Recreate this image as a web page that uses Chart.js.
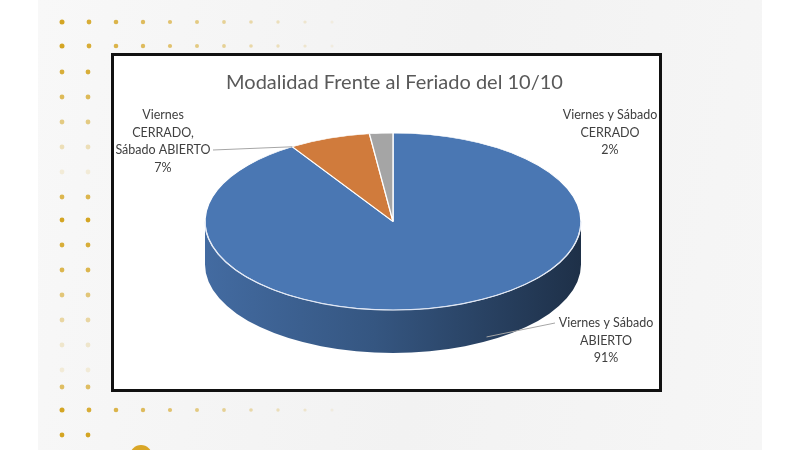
<!DOCTYPE html>
<html>
<head>
<meta charset="utf-8">
<script src="https://cdn.jsdelivr.net/npm/chart.js@4.4.0/dist/chart.umd.min.js"></script>
<style>
  html, body { margin: 0; padding: 0; width: 800px; height: 450px; overflow: hidden; background: #fff; }
  #slide { position: absolute; left: 38px; top: 0; width: 724px; height: 450px;
           background: linear-gradient(100deg, #f8f8f8 0%, #f2f2f2 55%, #f6f6f6 100%); }
  #dots { position: absolute; left: 0; top: 0; }
  #box { position: absolute; left: 111px; top: 53px; width: 545px; height: 333px;
         border: 3px solid #111; background: #fff; }
  #box canvas { position: absolute; left: 0; top: 0; }
</style>
</head>
<body>
<div id="slide"></div>
<canvas id="dots" width="800" height="450"></canvas>
<div id="box"><canvas id="pie" width="545" height="333"></canvas></div>
<script>
// data
const categories = [
  ['Viernes y Sábado', 'ABIERTO'],
  ['Viernes', 'CERRADO,', 'Sábado ABIERTO'],
  ['Viernes y Sábado', 'CERRADO']
];
const shares = [91, 7, 2];
const chartTitle = 'Modalidad Frente al Feriado del 10/10';

const sliceColors = ['#4a77b3', '#d07b3c', '#a5a5a5'];

// slide decoration: gold dots down the left and along the top
const dctx = document.getElementById('dots').getContext('2d');
function dot(x, y, a, r) {
  dctx.fillStyle = 'rgba(212,165,35,' + a + ')';
  dctx.beginPath();
  dctx.arc(x, y, r, 0, Math.PI * 2);
  dctx.fill();
}
function dotRow(y) {
  for (let i = 0; i < 11; i++) dot(62 + 27 * i, y, Math.max(0.08, 1 - i * 0.09), 2.5 - i * 0.1);
}
dotRow(22);
dotRow(46);
dotRow(410);
const colRows = [[72, 0.9], [97, 0.75], [122, 0.55], [147, 0.3], [172, 0.15], [197, 0.8], [220, 1],
  [245, 0.9], [270, 0.8], [295, 0.6], [320, 0.4], [345, 0.2], [370, 0.15], [387, 0.7], [435, 1]];
colRows.forEach(([y, a]) => { dot(62, y, a, 2.4); dot(88, y, a, 2.4); });
dctx.fillStyle = '#d9a627';
dctx.beginPath();
dctx.arc(141, 456, 11, 0, Math.PI * 2);
dctx.fill();

// where the tilted pie sits inside the chart box
const TILT = { cx: 279, cy: 165.5, rx: 188, ry: 88.5, depth: 43 };
const LABEL_POS = [{ x: 492, y: 267 }, { x: 49, y: 59 }, { x: 496, y: 59 }];

function shade(hex, f) {
  const n = parseInt(hex.slice(1), 16);
  const r = (n >> 16) & 255, g = (n >> 8) & 255, b = n & 255;
  return 'rgb(' + Math.round(r * f) + ',' + Math.round(g * f) + ',' + Math.round(b * f) + ')';
}

const pie3d = {
  id: 'pie3d',
  beforeDatasetsDraw(chart) {
    const ctx = chart.ctx, t = TILT;
    const arcs = chart.getDatasetMeta(0).data;
    // side walls for the front half of each slice
    arcs.forEach((arc, i) => {
      const p = arc.getProps(['startAngle', 'endAngle'], true);
      [0, Math.PI * 2].forEach(shift => {
        const a0 = Math.max(p.startAngle, shift);
        const a1 = Math.min(p.endAngle, shift + Math.PI);
        if (a1 <= a0) return;
        const g = ctx.createLinearGradient(t.cx - t.rx, 0, t.cx + t.rx, 0);
        g.addColorStop(0, shade(sliceColors[i], 0.9));
        g.addColorStop(0.45, shade(sliceColors[i], 0.72));
        g.addColorStop(1, shade(sliceColors[i], 0.4));
        ctx.beginPath();
        ctx.ellipse(t.cx, t.cy, t.rx, t.ry, 0, a0, a1);
        ctx.ellipse(t.cx, t.cy + t.depth, t.rx, t.ry, 0, a1, a0, true);
        ctx.closePath();
        ctx.fillStyle = g;
        ctx.fill();
      });
    });
    // squash the flat pie onto the top face
    const a = arcs[0];
    const R = a.outerRadius;
    ctx.save();
    ctx.translate(t.cx, t.cy);
    ctx.scale(t.rx / R, t.ry / R);
    ctx.translate(-a.x, -a.y);
  },
  afterDatasetsDraw(chart) {
    const ctx = chart.ctx, t = TILT;
    ctx.restore();
    const arcs = chart.getDatasetMeta(0).data;

    // light edge along the front rim
    ctx.beginPath();
    ctx.ellipse(t.cx, t.cy, t.rx, t.ry, 0, 0, Math.PI);
    ctx.strokeStyle = 'rgba(225,232,245,0.9)';
    ctx.lineWidth = 1.2;
    ctx.stroke();

    // leader lines
    ctx.strokeStyle = '#a6a6a6';
    ctx.lineWidth = 1;
    const s = arcs[1].getProps(['startAngle'], true).startAngle;
    ctx.beginPath();
    ctx.moveTo(99, 94);
    ctx.lineTo(t.cx + t.rx * Math.cos(s), t.cy + t.ry * Math.sin(s));
    ctx.stroke();
    const b = 1.05;
    ctx.beginPath();
    ctx.moveTo(441, 267);
    ctx.lineTo(t.cx + t.rx * Math.cos(b), t.cy + t.ry * Math.sin(b) + t.depth * 0.9);
    ctx.stroke();

    // data labels
    const total = shares.reduce((x, y) => x + y, 0);
    ctx.font = '12.5px Lato';
    ctx.fillStyle = '#404040';
    ctx.textAlign = 'center';
    ctx.textBaseline = 'middle';
    categories.forEach((lines, i) => {
      const all = lines.concat([Math.round(shares[i] / total * 100) + '%']);
      all.forEach((txt, k) => ctx.fillText(txt, LABEL_POS[i].x, LABEL_POS[i].y + k * 17.5));
    });
  }
};

new Chart(document.getElementById('pie'), {
  type: 'pie',
  data: {
    labels: categories.map(c => c.join(' ')),
    datasets: [{
      data: shares,
      backgroundColor: sliceColors,
      borderColor: '#ffffff',
      borderWidth: 1,
      clip: false
    }]
  },
  options: {
    responsive: false,
    animation: false,
    events: [],
    layout: { padding: { left: 16 } },
    plugins: {
      legend: { display: false },
      tooltip: { enabled: false },
      title: {
        display: true,
        text: chartTitle,
        color: '#595959',
        font: { family: 'Lato', size: 20, weight: 'normal' },
        padding: { top: 15, bottom: 10 }
      }
    }
  },
  plugins: [pie3d]
});
</script>
</body>
</html>
